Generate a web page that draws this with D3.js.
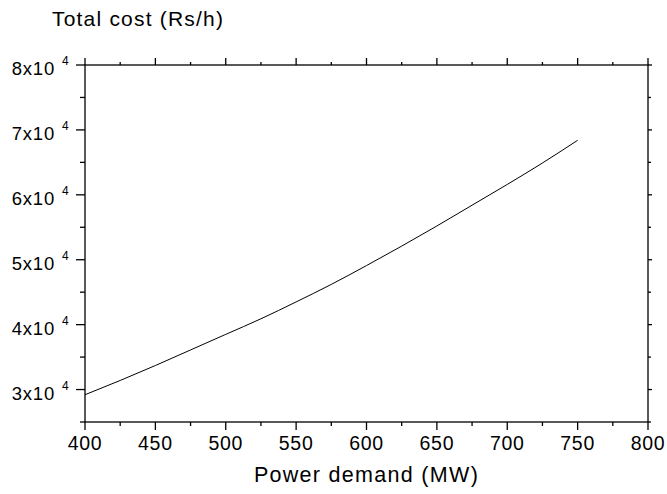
<!DOCTYPE html>
<html><head><meta charset="utf-8">
<script src="https://cdn.jsdelivr.net/npm/d3@7"></script>
<style>body{margin:0;background:#fff}svg{display:block}text{font-family:"Liberation Sans",Arial,sans-serif;fill:#000}</style>
</head><body>
<script>
const demand = [400,425,450,475,500,525,550,575,600,625,650,675,700,725,750];
const cost = [29200,31400,33700,36100,38500,40900,43500,46200,49100,52100,55200,58400,61600,64900,68400];
const xTicks = [400,450,500,550,600,650,700,750,800];
const yTicks = [30000,40000,50000,60000,70000,80000];
const yTickMantissa = ["3","4","5","6","7","8"];
const yLabel = "Total cost (Rs/h)";
const xLabel = "Power demand (MW)";

const W=667,H=494;
const L=85,R=648,T=65,B=422;
const svg=d3.select("body").append("svg").attr("width",W).attr("height",H);
const x=d3.scaleLinear().domain([400,800]).range([L,R]);
const y=d3.scaleLinear().domain([25000,80000]).range([B,T]);

const minorX=d3.range(425,800,50);
const minorY=d3.range(25000,80001,5000).filter(v=>v%10000!==0);

svg.append("rect").attr("x",L).attr("y",T).attr("width",R-L).attr("height",B-T)
  .attr("fill","none").attr("stroke","#000").attr("stroke-width",1.3);

const g=svg.append("g").attr("stroke","#000").attr("stroke-width",1.3);
xTicks.forEach(v=>g.append("line").attr("x1",x(v)).attr("x2",x(v)).attr("y1",B).attr("y2",B+8));
minorX.forEach(v=>g.append("line").attr("x1",x(v)).attr("x2",x(v)).attr("y1",B).attr("y2",B+4));
xTicks.forEach(v=>g.append("line").attr("x1",x(v)).attr("x2",x(v)).attr("y1",T).attr("y2",T-7));
minorX.forEach(v=>g.append("line").attr("x1",x(v)).attr("x2",x(v)).attr("y1",T).attr("y2",T-3));
yTicks.forEach(v=>g.append("line").attr("x1",L).attr("x2",L-9).attr("y1",y(v)).attr("y2",y(v)));
minorY.forEach(v=>g.append("line").attr("x1",L).attr("x2",L-5).attr("y1",y(v)).attr("y2",y(v)));
yTicks.forEach(v=>g.append("line").attr("x1",R).attr("x2",R+4).attr("y1",y(v)).attr("y2",y(v)));
minorY.forEach(v=>g.append("line").attr("x1",R).attr("x2",R+3).attr("y1",y(v)).attr("y2",y(v)));

svg.selectAll(".xl").data(xTicks).enter().append("text")
  .attr("x",d=>x(d)).attr("y",B+28).attr("text-anchor","middle").attr("font-size",19.5).attr("letter-spacing",0.7).text(d=>d);
yTicks.forEach((v,i)=>{
  svg.append("text").attr("x",55).attr("y",y(v)+10).attr("text-anchor","end").attr("font-size",18.5).attr("letter-spacing",0.8).text(yTickMantissa[i]+"x10");
  svg.append("text").attr("x",62).attr("y",y(v)).attr("font-size",12).text("4");
});

svg.append("text").attr("x",52).attr("y",26).attr("font-size",21).attr("letter-spacing",1.2).text(yLabel);
svg.append("text").attr("x",(L+R)/2).attr("y",H-12).attr("text-anchor","middle").attr("font-size",21.5).attr("letter-spacing",1.3).text(xLabel);

const line=d3.line().x((d,i)=>x(demand[i])).y(d=>y(d)).curve(d3.curveMonotoneX);
svg.append("path").attr("d",line(cost)).attr("fill","none").attr("stroke","#000").attr("stroke-width",1);
</script>
</body></html>
